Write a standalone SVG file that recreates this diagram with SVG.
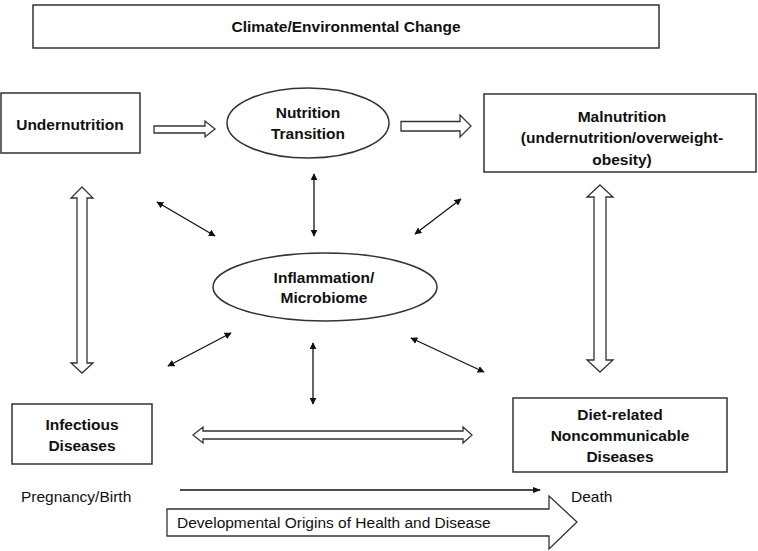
<svg xmlns="http://www.w3.org/2000/svg" width="758" height="551" viewBox="0 0 758 551">
<defs>
<marker id="ah" viewBox="0 0 10 10" refX="9" refY="5" markerWidth="7" markerHeight="7" markerUnits="userSpaceOnUse" orient="auto-start-reverse">
<path d="M0,0 L10,5 L0,10 z" fill="#111"/>
</marker>
<marker id="ah2" viewBox="0 0 10 10" refX="9" refY="5" markerWidth="8" markerHeight="8" markerUnits="userSpaceOnUse" orient="auto">
<path d="M0,1 L10,5 L0,9 z" fill="#111"/>
</marker>
<style>
.box{fill:#fff;stroke:#333;stroke-width:1.5}
.hollow{fill:#fff;stroke:#333;stroke-width:1.3}
.t{font-family:"Liberation Sans",Arial,sans-serif;font-weight:bold;font-size:15.5px;fill:#111;text-anchor:middle}
.n{font-family:"Liberation Sans",Arial,sans-serif;font-size:15.5px;fill:#111}
.thin{stroke:#111;stroke-width:1.3;fill:none}
</style>
</defs>
<rect width="758" height="551" fill="#fff"/>

<g id="climate">
<rect class="box" x="33" y="5" width="626" height="43"/>
<text class="t" x="346" y="32">Climate/Environmental Change</text>
</g>

<g id="undernutrition">
<rect class="box" x="1" y="93" width="139" height="60"/>
<text class="t" x="70" y="130">Undernutrition</text>
</g>

<g id="nutrition-transition">
<ellipse class="box" cx="308" cy="123" rx="81" ry="35"/>
<text class="t" x="308" y="118">Nutrition</text>
<text class="t" x="308" y="139">Transition</text>
</g>

<g id="malnutrition">
<rect class="box" x="484" y="94" width="272" height="78"/>
<text class="t" x="622" y="122">Malnutrition</text>
<text class="t" x="622" y="143">(undernutrition/overweight-</text>
<text class="t" x="622" y="165">obesity)</text>
</g>

<g id="inflammation">
<ellipse class="box" cx="325" cy="287" rx="112" ry="34"/>
<text class="t" x="324" y="283">Inflammation/</text>
<text class="t" x="324" y="303">Microbiome</text>
</g>

<g id="infectious">
<rect class="box" x="12" y="404" width="140" height="60"/>
<text class="t" x="82" y="430">Infectious</text>
<text class="t" x="82" y="451">Diseases</text>
</g>

<g id="ncd">
<rect class="box" x="513" y="398" width="214" height="74"/>
<text class="t" x="620" y="420">Diet-related</text>
<text class="t" x="620" y="441">Noncommunicable</text>
<text class="t" x="620" y="462">Diseases</text>
</g>

<g id="labels">
<text class="n" x="21" y="502">Pregnancy/Birth</text>
<text class="n" x="571" y="502">Death</text>
</g>

<g id="connectors">
<polygon class="hollow" points="154,126 205,126 205,121 215,129 205,137 205,133 154,133"/>
<polygon class="hollow" points="401,121.5 460,121.5 460,115 471,126 460,137 460,131 401,131"/>
<polygon class="hollow" points="600,185 613,197 606,197 606,360 613,360 600,372 587,360 594,360 594,197 587,197"/>
<polygon class="hollow" points="82,187 93,198 87,198 87,363 93,363 82,373 71,363 77,363 77,198 71,198"/>
<polygon class="hollow" points="193,435 203,427 203,431 463,431 463,427 472,435 463,443 463,439 203,439 203,443"/>
<line class="thin" x1="157" y1="202" x2="215" y2="236" marker-start="url(#ah)" marker-end="url(#ah)"/>
<line class="thin" x1="314" y1="174" x2="314" y2="236" marker-start="url(#ah)" marker-end="url(#ah)"/>
<line class="thin" x1="415" y1="234" x2="461" y2="199" marker-start="url(#ah)" marker-end="url(#ah)"/>
<line class="thin" x1="168" y1="366" x2="231" y2="333" marker-start="url(#ah)" marker-end="url(#ah)"/>
<line class="thin" x1="313" y1="343" x2="313" y2="404" marker-start="url(#ah)" marker-end="url(#ah)"/>
<line class="thin" x1="411" y1="338" x2="484" y2="372" marker-start="url(#ah)" marker-end="url(#ah)"/>
<line class="thin" x1="180" y1="490" x2="540" y2="490" marker-end="url(#ah2)"/>
</g>

<g id="dohad">
<polygon class="hollow" points="167,509 549,509 549,496 577,522 549,549 549,536 167,536"/>
<text class="n" x="177" y="528">Developmental Origins of Health and Disease</text>
</g>
</svg>
